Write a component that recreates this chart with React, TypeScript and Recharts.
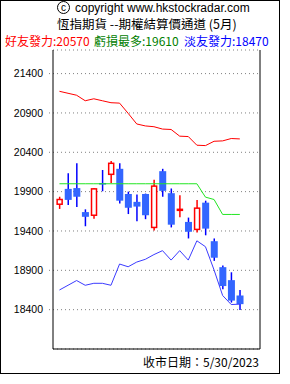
import React from 'react';
import { ComposedChart, Bar, Line, XAxis, YAxis, CartesianGrid, ReferenceLine } from 'recharts';

// daily candles (22 trading days)
const OPEN = [19740, 19935, 19945, 19640, 19600, 20010, 20120, 20190, 19870, 19770, 19870, 19445, 20160, 19880, 19665, 19515, 19420, 19760, 19270, 18940, 18775, 18580];
const CLOSE = [19800, 19795, 19835, 19580, 19935, 19990, 20260, 19785, 19695, 19710, 19600, 19970, 19910, 19480, 19675, 19390, 19690, 19430, 19060, 18700, 18515, 18470];
const HIGH = [19835, 20135, 20260, 19675, 19945, 20175, 20290, 20260, 19900, 19865, 19875, 20050, 20190, 19940, 19855, 19570, 19795, 19785, 19305, 18960, 18875, 18650];
const LOW = [19680, 19730, 19705, 19460, 19555, 19905, 20010, 19750, 19615, 19525, 19550, 19405, 19835, 19445, 19575, 19305, 19380, 19345, 19020, 18660, 18490, 18395];

// channel lines
const UPPER = [21175, 21150, 21125, 21055, 21080, 21055, 21030, 21025, 20895, 20760, 20735, 20725, 20695, 20690, 20605, 20600, 20490, 20485, 20540, 20545, 20575, 20570];
const MID = [20000, 20000, 20000, 20000, 20000, 20000, 20000, 20000, 20000, 20000, 20000, 20000, 20000, 20000, 20000, 20000, 20000, 19830, 19800, 19610, 19610, 19610];
const LOWER = [18650, 18710, 18770, 18710, 18735, 18735, 18710, 18980, 18945, 19005, 19040, 19100, 19150, 19030, 19150, 19030, 19275, 19200, 18905, 18580, 18465, 18470];

const Y_TICKS = [18400, 18900, 19400, 19900, 20400, 20900, 21400];
const Y_MIN = 17900;
const Y_MAX = 21700;
const X_MIN = -0.75;
const X_MAX = 23.35;

const data = OPEN.map((o, i) => ({
  i,
  open: o,
  close: CLOSE[i],
  high: HIGH[i],
  low: LOW[i],
  range: [LOW[i], HIGH[i]],
  upper: UPPER[i],
  mid: MID[i],
  lower: LOWER[i],
}));

const Candle = (props: any) => {
  const { x, y, width, height, payload } = props;
  if (!payload) return null;
  const { open, close, high, low } = payload;
  const top = Math.min(y, y + height);
  const h = Math.abs(height);
  const py = (v: number) => top + ((high - v) / (high - low)) * h;
  const cx = x + width / 2;
  const up = close >= open;
  const bTop = py(Math.max(open, close));
  const bBot = py(Math.min(open, close));
  if (up) {
    return (
      <g>
        <line x1={cx} x2={cx} y1={top} y2={top + h} stroke="#ff0000" strokeWidth={1.5} />
        <rect x={cx - 2.5} y={bTop} width={5} height={Math.max(bBot - bTop, 1)} fill="#fff" stroke="#ff0000" strokeWidth={1.5} />
      </g>
    );
  }
  return (
    <g>
      <line x1={cx} x2={cx} y1={top} y2={top + h} stroke="#0000ff" strokeWidth={1.5} />
      <rect x={cx - 3.5} y={bTop} width={7} height={Math.max(bBot - bTop, 1.5)} fill="#3366ff" />
    </g>
  );
};

const cjk = '"Noto Sans CJK TC", "Liberation Sans", sans-serif';
const latin = '"Liberation Sans", Arial, sans-serif';

export default function App() {
  return (
    <div style={{ position: 'relative', width: 290, height: 384, fontFamily: cjk }}>
      <style>{'body{margin:0}'}</style>
      <div style={{ position: 'absolute', left: 0, top: 0, width: 280, height: 374, border: '1px solid #000', boxSizing: 'border-box' }} />

      {/* header */}
      <div style={{ position: 'absolute', left: 57, top: 1, width: 13, height: 13, border: '1px solid #000', borderRadius: '50%', boxSizing: 'border-box', fontSize: 10, lineHeight: '11px', textAlign: 'center', fontFamily: latin }}>c</div>
      <div style={{ position: 'absolute', left: 75, top: 1, fontSize: 12, fontFamily: latin, whiteSpace: 'nowrap', lineHeight: '14px' }}>
        copyright www.hkstockradar.com
      </div>
      <div style={{ position: 'absolute', left: 57, top: 16, fontSize: 12.5, whiteSpace: 'nowrap', lineHeight: '16px' }}>
        恆指期貨 --期權結算價通道 (5月)
      </div>
      <div style={{ position: 'absolute', left: 5, top: 33, fontSize: 12, color: '#ff0000', whiteSpace: 'nowrap', lineHeight: '16px' }}>好友發力:20570</div>
      <div style={{ position: 'absolute', left: 94, top: 33, fontSize: 12, color: '#008000', whiteSpace: 'nowrap', lineHeight: '16px' }}>虧損最多:19610</div>
      <div style={{ position: 'absolute', left: 184, top: 33, fontSize: 12, color: '#0000ff', whiteSpace: 'nowrap', lineHeight: '16px' }}>淡友發力:18470</div>

      <div style={{ position: 'absolute', left: 0, top: 0 }}>
        <ComposedChart width={290} height={384} data={data} margin={{ top: 50, right: 30, left: 0, bottom: 35 }}>
          <CartesianGrid horizontal vertical={false} stroke="#808080" strokeDasharray="1 3" />
          <XAxis dataKey="i" type="number" domain={[X_MIN, X_MAX]} hide allowDataOverflow />
          <YAxis
            type="number"
            domain={[Y_MIN, Y_MAX]}
            ticks={Y_TICKS}
            allowDataOverflow
            width={53}
            axisLine={{ stroke: '#000' }}
            tickLine={{ stroke: '#808080', strokeDasharray: '1 2' }}
            tickSize={4}
            tickMargin={6}
            tick={{ fill: '#000', fontSize: 10.5, fontFamily: latin }}
          />
          <ReferenceLine y={Y_MIN} stroke="#000" />
          <ReferenceLine x={X_MAX} stroke="#000" />
          <Line dataKey="upper" stroke="#ff0000" strokeWidth={1} dot={false} isAnimationActive={false} />
          <Line dataKey="mid" stroke="#22e622" strokeWidth={1} dot={false} isAnimationActive={false} />
          <Bar dataKey="range" barSize={7} shape={<Candle />} isAnimationActive={false} />
          <Line dataKey="lower" stroke="#3b3bff" strokeWidth={1} dot={false} isAnimationActive={false} />
        </ComposedChart>
      </div>

      <div style={{ position: 'absolute', left: 143, top: 354, fontSize: 12, whiteSpace: 'nowrap', lineHeight: '16px' }}>
        收市日期：5/30/2023
      </div>
    </div>
  );
}
